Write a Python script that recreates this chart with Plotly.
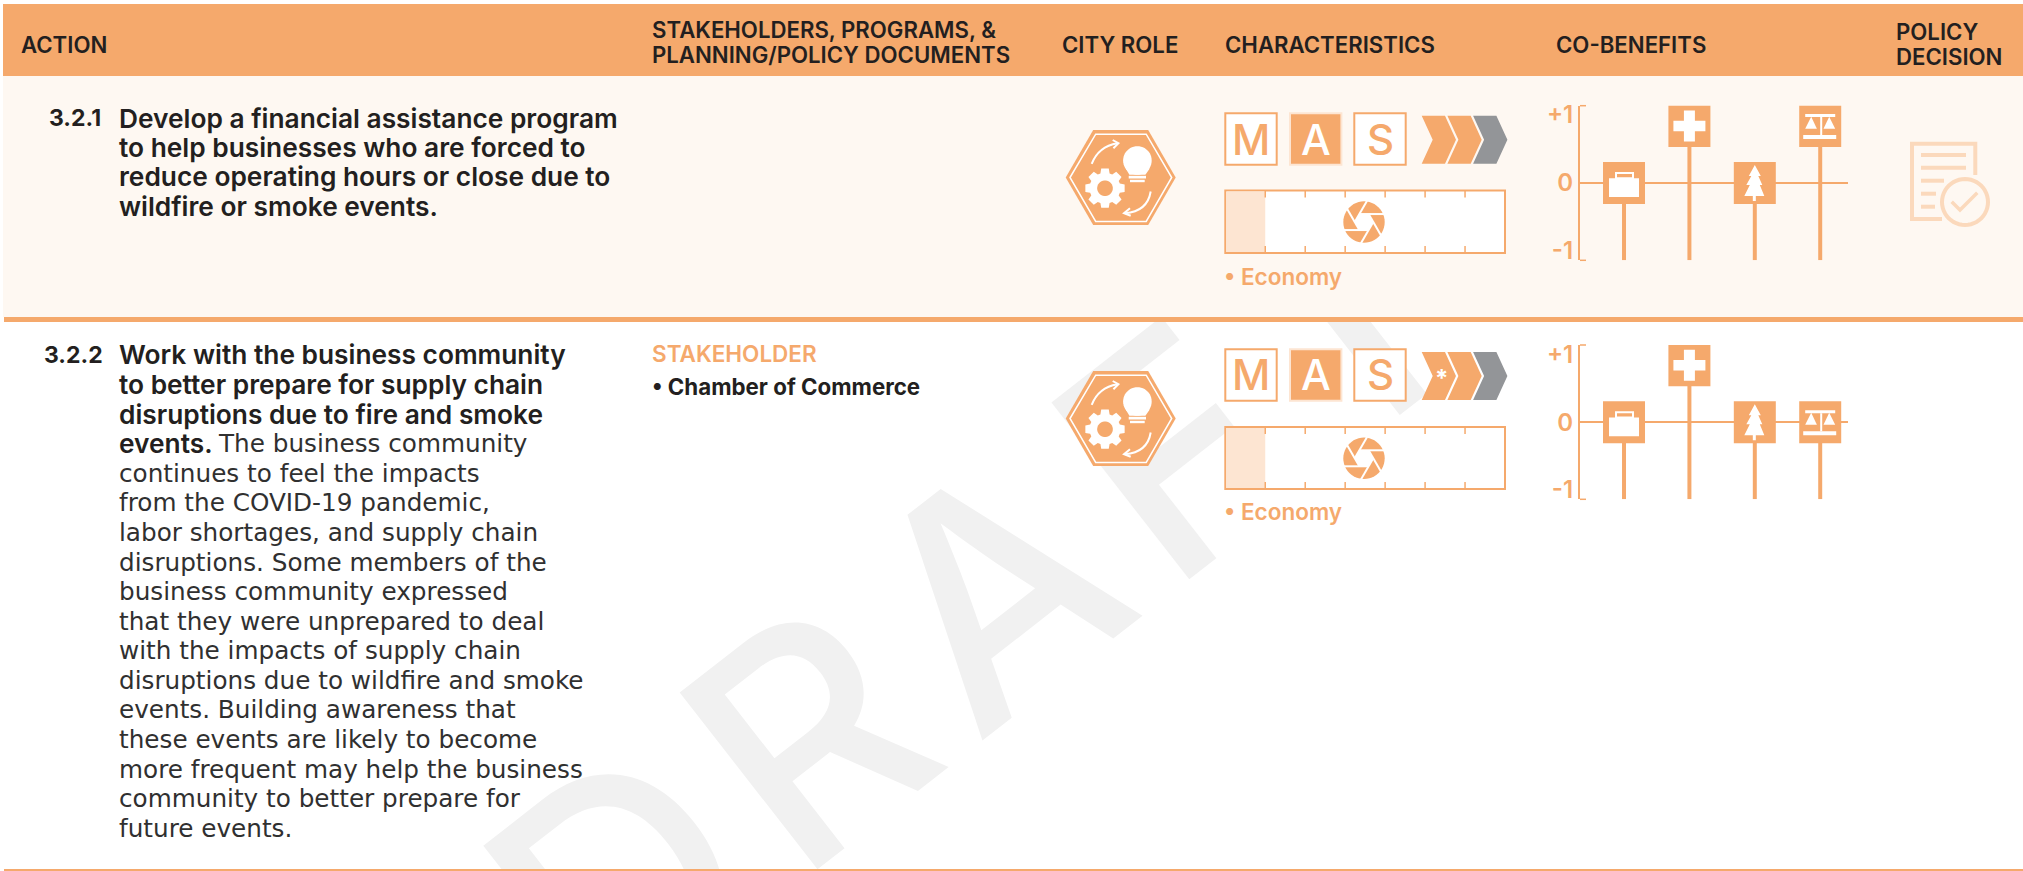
import math
import plotly.graph_objects as go

W, H = 2023, 871
ORANGE = "#F5A96C"
CREAM = "#FEF8F2"
GRAY = "#939598"
LIGHT = "#FDE5D2"
DOC = "#FBD9BC"
MARK = "#F1F1F1"
INK = "#231F20"
BODY = "#303030"
FONT = "Inter, 'Noto Sans', sans-serif"
BODY_FONT = "'DejaVu Sans', Inter, sans-serif"

# ---- table content ----
header_labels = ["ACTION", "STAKEHOLDERS, PROGRAMS, &", "PLANNING/POLICY DOCUMENTS", "CITY ROLE",
                 "CHARACTERISTICS", "CO-BENEFITS", "POLICY", "DECISION"]
action_numbers = ["3.2.1", "3.2.2"]
action_1_lead = ["Develop a financial assistance program",
                 "to help businesses who are forced to",
                 "reduce operating hours or close due to",
                 "wildfire or smoke events."]
action_2_lead = ["Work with the business community",
                 "to better prepare for supply chain",
                 "disruptions due to fire and smoke",
                 "events."]
action_2_body = ["The business community",
                 "continues to feel the impacts",
                 "from the COVID-19 pandemic,",
                 "labor shortages, and supply chain",
                 "disruptions. Some members of the",
                 "business community expressed",
                 "that they were unprepared to deal",
                 "with the impacts of supply chain",
                 "disruptions due to wildfire and smoke",
                 "events. Building awareness that",
                 "these events are likely to become",
                 "more frequent may help the business",
                 "community to better prepare for",
                 "future events."]
stakeholder_title = "STAKEHOLDER"
stakeholder_items = ["Chamber of Commerce"]
lens_labels = ["Economy", "Economy"]
mas_letters = ["M", "A", "S"]
mas_active = ["A", "A"]
chevrons_on = [2, 2]
chevron_star = [False, True]
timeline_cells = 7
timeline_filled = [1, 1]

benefit_names = ["Economy", "Health", "Environment", "Equity"]
benefit_values_1 = [0, 1, 0, 1]
benefit_values_2 = [0, 1, 0, 0]
axis_ticks = [-1, 0, 1]
axis_tick_text = ["-1", "0", "+1"]

shapes, notes = [], []


def pt(x, y):
    return f"{x / W:.6f},{1 - y / H:.6f}"


def rel(x, y):
    return f"{x:.2f},{-y:.2f}"


def seg_path(segs, conv, ox=0, oy=0):
    out = []
    for s in segs:
        if s[0] == "Z":
            out.append("Z")
        else:
            out.append(s[0] + " ".join(conv(ox + p[0], oy + p[1]) for p in s[1:]))
    return " ".join(out)


def poly_segs(points, close=True):
    segs = [("M", points[0])] + [("L", p) for p in points[1:]]
    if close:
        segs.append(("Z",))
    return segs


def circle_pts(cx, cy, r, n=48):
    return [(cx + r * math.cos(2 * math.pi * i / n), cy + r * math.sin(2 * math.pi * i / n)) for i in range(n)]


def rect_pts(x0, y0, x1, y1):
    return [(x0, y0), (x1, y0), (x1, y1), (x0, y1)]


def draw(segs, fill=None, line=None, width=0, ox=0, oy=0, layer="below"):
    shapes.append(dict(type="path", xref="paper", yref="paper", path=seg_path(segs, pt, ox, oy),
                       fillcolor=fill or "rgba(0,0,0,0)",
                       line=dict(color=line or "rgba(0,0,0,0)", width=width), layer=layer))


def rect(x0, y0, x1, y1, fill=None, line=None, width=0):
    draw(poly_segs(rect_pts(x0, y0, x1, y1)), fill, line, width)


def text(s, x, y, size, color=INK, anchor="left", weight=400, family=FONT):
    notes.append(dict(text=s, x=x / W, y=1 - y / H, xref="paper", yref="paper", xanchor=anchor, yanchor="middle",
                      showarrow=False, borderpad=0, align="left",
                      font=dict(family=family, size=size, color=color, weight=weight)))


# ---- backgrounds ----
WM_X, WM_Y = 972, 594
shapes.append(dict(type="line", xref="paper", yref="paper",
                   x0=(WM_X - 400) / W, y0=1 - (WM_Y + 312) / H, x1=(WM_X + 400) / W, y1=1 - (WM_Y - 312) / H,
                   line=dict(color="rgba(0,0,0,0)", width=0), layer="below",
                   label=dict(text="D\u200aR\u200aA\u200aF\u200aT", textposition="middle", yanchor="middle",
                              font=dict(family=FONT, size=308, color=MARK, weight=500))))
rect(3, 76, W, 317, CREAM)
rect(3, 4, W, 76, ORANGE)
rect(4, 317, W, 322, ORANGE)
rect(4, 869, W, 871, ORANGE)

# ---- header ----
HS = 22.2
text(header_labels[0], 20, 44, HS, INK, weight=600)
text(header_labels[1], 651, 30, HS, INK, weight=600)
text(header_labels[2], 651, 55, HS, INK, weight=600)
text(header_labels[3], 1061, 44, HS, INK, weight=600)
text(header_labels[4], 1224, 44, HS, INK, weight=600)
text(header_labels[5], 1555, 44, HS, INK, weight=600)
text(header_labels[6], 1895, 32, HS, INK, weight=600)
text(header_labels[7], 1895, 57, HS, INK, weight=600)

# ---- action text ----
LS, BS = 26.3, 24.7
text(action_numbers[0], 48, 118, 23, INK, weight=700)
for i, line in enumerate(action_1_lead):
    text(line, 118, 118 + 29.35 * i, LS, INK, weight=600)
text(action_numbers[1], 43, 355, 23, INK, weight=700)
for i, line in enumerate(action_2_lead):
    text(line, 118, 355 + 29.58 * i, LS, INK, weight=600)
for i, line in enumerate(action_2_body):
    text(line, 217 if i == 0 else 118, 355 + 29.58 * (i + 3), BS, BODY, family=BODY_FONT)

# ---- stakeholders ----
text(stakeholder_title, 651, 353, 22.5, ORANGE, weight=600)
text("• " + stakeholder_items[0], 651, 386, 22.3, INK, weight=700)


# ---- city role icon ----
def role_icon(cx, cy):
    draw(poly_segs([(-55, 0), (-27.5, -47.5), (27.5, -47.5), (55, 0), (27.5, 47.5), (-27.5, 47.5)]), ORANGE, ox=cx, oy=cy)
    draw(poly_segs([(-50.7, 0), (-25, -43.3), (25.5, -43.3), (51, 0), (25.5, 44), (-25, 44)]), None, "white", 1.5, cx, cy)
    # bulb
    draw(poly_segs(circle_pts(16.7, -17, 14.3)), "white", ox=cx, oy=cy)
    draw(poly_segs([(5, -9), (29, -9), (24.7, -2.7), (8.7, -2.7)]), "white", ox=cx, oy=cy)
    draw(poly_segs(rect_pts(8, -1.7, 25.3, 1)), "white", ox=cx, oy=cy)
    draw(poly_segs(rect_pts(9.3, 2.3, 24, 4.7)), "white", ox=cx, oy=cy)
    # gear
    gx, gy = -15.7, 10.7
    pts = []
    for k in range(8):
        a = k * math.pi / 4
        for da, r in [(-0.30, 15.5), (-0.19, 20), (0.19, 20), (0.30, 15.5)]:
            pts.append((gx + r * math.cos(a + da), gy + r * math.sin(a + da)))
    draw(poly_segs(pts), "white", ox=cx, oy=cy)
    draw(poly_segs(circle_pts(gx, gy, 7.8)), ORANGE, ox=cx, oy=cy)
    # arrows
    draw([("M", (-29, -13.7)), ("Q", (-22.3, -31), (-3.3, -34.3))], None, "white", 2, cx, cy)
    draw(poly_segs([(-8, -37.5), (-2.3, -34.3), (-7.3, -29.3)], close=False), None, "white", 2, cx, cy)
    draw([("M", (30, 14)), ("Q", (26.7, 34), (4.3, 35.7))], None, "white", 2, cx, cy)
    draw(poly_segs([(9.3, 30.7), (3.3, 35.7), (10, 38.3)], close=False), None, "white", 2, cx, cy)


# ---- characteristics ----
def characteristics(row, mas_top, chev_mid, tl_top, tl_bottom, lens_y, star_y):
    for letter, x0 in zip(mas_letters, [1224.3, 1289, 1353.3]):
        active = letter == mas_active[row]
        rect(x0 + 1, mas_top + 1, x0 + 52.4, mas_top + 52.4, ORANGE if active else "white", LIGHT if active else ORANGE, 2)
        text(letter, x0 + 26.7, mas_top + 26.7, 42, "white" if active else ORANGE, "center", 500)
    for k in range(3):
        dx = 25.7 * k
        pts = [(1421.7 + dx, -24), (1445 + dx, -24), (1456 + dx, 0), (1445 + dx, 24), (1421.7 + dx, 24), (1432.7 + dx, 0)]
        draw(poly_segs(pts), ORANGE if k < chevrons_on[row] else GRAY, oy=chev_mid)
    if chevron_star[row]:
        text("*", 1441, star_y, 24, "white", "center", 700)
    rect(1225.3, tl_top, 1505, tl_bottom, "white", ORANGE, 2)
    cell = (1505 - 1225.3) / timeline_cells
    rect(1226.3, tl_top + 1, 1225.3 + cell * timeline_filled[row], tl_bottom - 1, LIGHT)
    for k in range(1, timeline_cells):
        tx = 1225.3 + cell * k
        draw(poly_segs([(tx, tl_top), (tx, tl_top + 7)], close=False), None, ORANGE, 1.5)
        draw(poly_segs([(tx, tl_bottom - 7), (tx, tl_bottom)], close=False), None, ORANGE, 1.5)
    ax, ay = 1364, (tl_top + tl_bottom) / 2 + 0.3
    draw(poly_segs(circle_pts(0, 0, 20.7)), ORANGE, ox=ax, oy=ay)
    hexa = [(9.2 * math.cos(math.radians(60 * k)), 9.2 * math.sin(math.radians(60 * k))) for k in range(6)]
    draw(poly_segs(hexa), "white", ox=ax, oy=ay)
    for k in range(6):
        c, s = math.cos(math.radians(60 * k)), math.sin(math.radians(60 * k))
        p0 = (-4.6 * c + 8 * s, -4.6 * s - 8 * c)
        p1 = (20 * c + 8 * s, 20 * s - 8 * c)
        draw(poly_segs([p0, p1], close=False), None, "white", 2, ax, ay)
    text("• " + lens_labels[row], 1223, lens_y, 22.5, ORANGE, weight=600)


role_icon(1120.7, 177.5)
role_icon(1120.7, 418.5)
characteristics(0, 112.3, 139.8, 190.5, 253, 276, 141)
characteristics(1, 348.3, 376, 427, 489, 511.5, 378)

# ---- policy decision icon (row 1 only) ----
draw(poly_segs([(1975.3, 175), (1975.3, 143.7), (1912, 143.7), (1912, 219), (1942, 219)], close=False), None, DOC, 4)
for ly, x1 in zip([155, 167.7, 180.7, 193.7, 206.7], [1967, 1967, 1945, 1937, 1936]):
    draw(poly_segs([(1921, ly), (x1 - 1, ly)], close=False), None, DOC, 4)
draw(poly_segs(circle_pts(1965, 202, 23)), CREAM, DOC, 4)
draw(poly_segs([(1951.7, 201.7), (1960, 210), (1977.3, 192.7)], close=False), None, DOC, 3.5)

# ---- co-benefit panels: tile glyphs in pixels around the tile centre ----
TILE = 21
glyphs = {
    "Economy": [(poly_segs(rect_pts(-15, -4.7, 15, 14)), "white", None, 0),
                (poly_segs(rect_pts(-8, -10, 9, -4.7)), None, "white", 2)],
    "Health": [(poly_segs([(-16, -5.3), (-5.5, -5.3), (-5.5, -15.5), (5.5, -15.5), (5.5, -5.3), (16, -5.3), (16, 5.3),
                           (5.5, 5.3), (5.5, 15.5), (-5.5, 15.5), (-5.5, 5.3), (-16, 5.3)]), "white", None, 0)],
    "Environment": [(poly_segs([(0, -18), (-6, -7), (-3.5, -7), (-8.5, 2), (-5, 2), (-10.5, 13), (-2, 13), (-2, 18),
                                (1, 18), (1, 13), (9.5, 13), (5, 2), (7.5, 2), (3.5, -7), (6, -7)]), "white", None, 0)],
    "Equity": [(poly_segs(rect_pts(-15, -12, 15, -9)), "white", None, 0),
               (poly_segs(rect_pts(0, -9, 2, 9)), "white", None, 0),
               (poly_segs(rect_pts(-17, 9, 16, 13)), "white", None, 0),
               (poly_segs([(-9, -9.3), (-15, 2.7), (-3.3, 2.7)]), "white", None, 0),
               (poly_segs([(9, -9.3), (3.3, 2.7), (15, 2.7)]), "white", None, 0)],
}

AXIS_HALF = 1.137
X_RANGE = [-0.673, 3.425]
fig = go.Figure()


def panel(n, values, top, bottom):
    xa, ya = f"xaxis{n}", f"yaxis{n}"
    xr, yr = f"x{n}", f"y{n}"
    positions = list(range(len(benefit_names)))
    fig.add_trace(go.Bar(x=positions, y=[v + AXIS_HALF for v in values], base=[-AXIS_HALF] * len(values),
                         width=0.061, marker=dict(color=ORANGE, line=dict(width=0)),
                         customdata=benefit_names, hoverinfo="skip", xaxis=xr, yaxis=yr, showlegend=False))
    fig.update_layout({
        xa: dict(domain=[1580 / W, 1848 / W], range=X_RANGE, anchor=yr, visible=False, fixedrange=True,
                 automargin=False),
        ya: dict(domain=[1 - bottom / H, 1 - top / H], range=[-AXIS_HALF, AXIS_HALF], anchor=xr, showgrid=False,
                 zeroline=True, zerolinecolor=ORANGE, zerolinewidth=2, showline=True, linecolor=ORANGE, linewidth=2,
                 tickmode="array", tickvals=axis_ticks, ticktext=axis_tick_text, ticks="", fixedrange=True,
                 automargin=False, tickfont=dict(family=FONT, size=24, color=ORANGE, weight=600)),
    })
    for yy in (0, 1):
        shapes.append(dict(type="line", xref=f"{xr} domain", yref=f"{yr} domain", x0=0, x1=6 / 268, y0=yy, y1=yy,
                           line=dict(color=ORANGE, width=1.5), layer="below"))
    for i, (name, v) in enumerate(zip(benefit_names, values)):
        shift = 11 * v
        anchored = dict(type="path", xref=xr, yref=yr, xsizemode="pixel", ysizemode="pixel", xanchor=i, yanchor=v,
                        layer="above")
        shapes.append(dict(anchored, path=seg_path(poly_segs(rect_pts(-TILE, -TILE, TILE, TILE)), rel, 0, shift),
                           fillcolor=ORANGE, line=dict(width=0)))
        for segs, fill, line, width in glyphs[name]:
            shapes.append(dict(anchored, path=seg_path(segs, rel, 0, shift), fillcolor=fill or "rgba(0,0,0,0)",
                               line=dict(color=line or "rgba(0,0,0,0)", width=width)))


panel(2, benefit_values_1, 105.7, 260.3)
panel(3, benefit_values_2, 345, 499.3)

fig.update_layout(template="none", width=W, height=H, margin=dict(l=0, r=0, t=0, b=0, pad=0), paper_bgcolor="white",
                  plot_bgcolor="rgba(0,0,0,0)", shapes=shapes, annotations=notes, barmode="overlay", showlegend=False,
                  font=dict(family=FONT))
fig.write_html("out.html", config=dict(displayModeBar=False), post_script="document.body.style.margin='0';")
